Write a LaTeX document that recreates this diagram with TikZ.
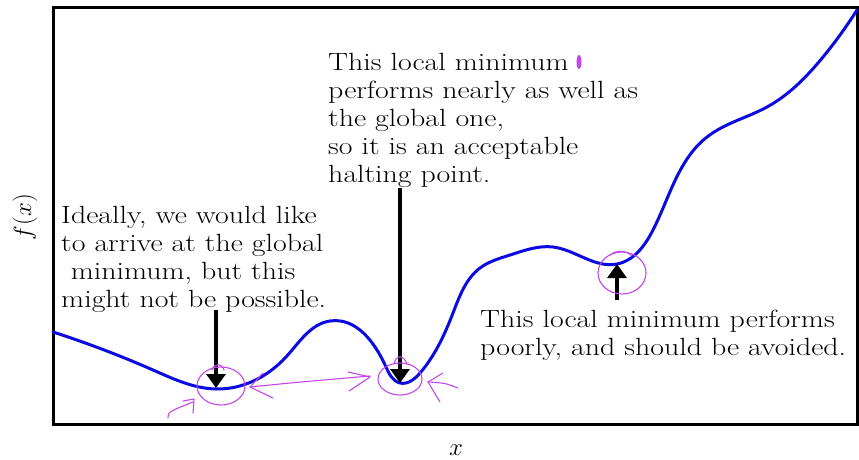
\documentclass[tikz,border=0pt]{standalone}
\usetikzlibrary{arrows.meta,hobby}
\definecolor{curveblue}{RGB}{10,10,225}
\definecolor{pen}{RGB}{195,70,235}
\begin{document}
\begin{tikzpicture}[x=1pt,y=-1pt,
  lbl/.style={font=\fontsize{24.88}{28}\selectfont, align=left, inner sep=0pt, anchor=base west, xscale=1.2, transform shape},
  axlbl/.style={font=\fontsize{24.88}{28}\selectfont, inner sep=0pt},
  pointer/.style={line width=3.2pt, -{Triangle[width=19pt,length=14pt]}},
  ink/.style={draw=pen, line width=1.1pt, line cap=round, line join=round}]
\useasboundingbox (0,0) rectangle (859,460);
% frame
\draw[line width=3pt] (53,8) rectangle (857,424);
% curve
\draw[curveblue, line width=3pt, line cap=round] (53,332) to[curve through={
 (153,370) (216,389) (286,357) (330,321) (386,367) (400,383) (420,373)
 (453,313) (480,268) (510,255) (553,247) (617,264) (653,230) (707,137)
 (767,107) (823,57)}] (857,10);
% texts
\node[lbl] (t1) at (61,307) {Ideally, we would like\\to arrive at the global\\\hspace*{8pt}minimum, but this\\might not be possible.};
\node[lbl] (t2) at (328,182) {This local minimum\\performs nearly as well as\\the global one,\\so it is an acceptable\\halting point.};
\node[lbl] (t3) at (480,355) {This local minimum performs\\poorly, and should be avoided.};
\node[axlbl, rotate=90] (ylab) at (25,217) {$f(x)$};
\node[axlbl] (xlab) at (456,450) {$x$};
% pointers
\coordinate (m1) at (216,388); \coordinate (a1) at (216,310);
\coordinate (m2) at (400,383); \coordinate (a2) at (400,188);
\coordinate (m3) at (617,264); \coordinate (a3) at (617,300);
\draw[pointer] (a1) -- (m1);
\draw[pointer] (a2) -- (m2);
\draw[pointer] (a3) -- (m3);
% handwritten ink
\draw[ink] (221,386) ellipse [x radius=24, y radius=19];
\draw[ink] (212,370) .. controls (214,363) and (222,363) .. (224,370);
\draw[ink] (400,379) ellipse [x radius=22, y radius=16];
\draw[ink] (394,364) .. controls (396,354) and (404,355) .. (407,364);
\draw[ink] (622,273) ellipse [x radius=24, y radius=21];
\draw[ink] (610,255) .. controls (616,250) and (626,250) .. (632,256);
\draw[ink] (168,418) .. controls (168,412) .. (193,402);
\draw[ink] (183,401) -- (194,399) -- (193,413);
\draw[ink] (250,387) .. controls (300,382) .. (370,376);
\draw[ink] (263,373) -- (250,387) -- (273,398);
\draw[ink] (348,372) -- (370,377) -- (349,391);
\draw[ink] (458,388) .. controls (445,383) .. (428,382);
\draw[ink] (443,373) -- (428,382) -- (440,402);
\fill[pen] (579,62) ellipse [x radius=2.5, y radius=7];
\end{tikzpicture}
\end{document}
